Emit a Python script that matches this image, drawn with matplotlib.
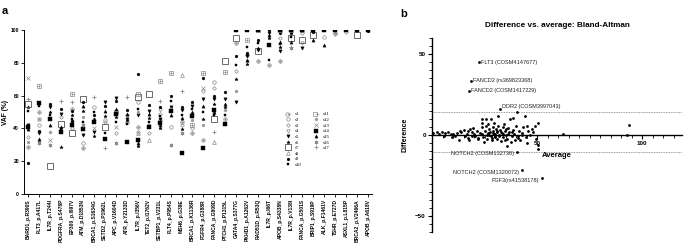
import numpy as np
import matplotlib
matplotlib.use("Agg")
import matplotlib.pyplot as plt
from matplotlib.ticker import MultipleLocator
from matplotlib.lines import Line2D
from matplotlib.legend_handler import HandlerTuple

plt.rcParams['font.family'] = ['Liberation Sans', 'DejaVu Sans']
nan = np.nan

# ---------------- Panel a data ----------------
categories = ["BARD1_p.R390S", "FLT3_p.A417L", "IL7R_p.T244I", "PDGFRA_p.S478P", "EP300_p.I997V",
              "ATM_p.D1853N", "BRCA1_p.S1634G", "SETD2_p.P1962L", "APC_p.V1604D", "ATR_p.Y2133D",
              "IL7R_p.I356V", "TET2_p.I1762V", "SETBP1_p.V231L", "FLT4_p.P954S", "MSH6_p.G39E",
              "BRCA1_p.K1136R", "FGFR4_p.G388R", "FANCA_p.G809D", "PTCH1_p.P1315L", "GATA4_p.S377G",
              "PKHD1_p.A1262V", "RAD51D_p.R53Q", "IL7R_p.I66T", "APOB_p.S4338N", "IL7R_p.V138I",
              "FANCA_p.G501S", "BRIP1_p.S919P", "ALK_p.F1461V", "TSHR_p.E727D", "ASXL1_p.L815P",
              "BRCA2_p.V2466A", "APOB_p.A618V"]

s1 = [29, 50, nan, nan, 52, 28, nan, nan,  nan, 44, 41, nan, 45, nan, 44, 37,
      33, nan, 46, 92, 85, 81, 79, 81,  nan, nan, nan, nan, 98.5, nan, nan, nan]
s2 = [nan, 42, nan, nan, nan, 31, 53, 45,  nan, nan, 56, nan, nan, 41, nan, nan,
      nan, 68.4, nan, nan, nan, nan, nan, nan,  nan, nan, nan, 96, nan, nan, nan, nan]
s3 = [35, 45.7, nan, 47, 40, nan, nan, 44,  37, 48.5, 38, 37.5, 49, nan, 42.4, 40,
      62.7, 64.8, nan, 75, nan, nan, nan, 95.5,  nan, 98, nan, nan, 97.6, 99, nan, nan]
s4 = [nan, nan, nan, nan, nan, nan, nan, nan,  nan, nan, nan, nan, 51, nan, nan, nan,
      nan, nan, nan, nan, nan, nan, nan, nan,  nan, 92, nan, nan, nan, nan, nan, nan]
s5 = [42, 37, 53, 49, 44, 36, 38, 56,  58.7, 46, 48, 50.5, 46, 53, 51, 54,
      58, 58, 58, 56, 84, 88, 98, 87,  nan, 89, nan, nan, nan, nan, nan, nan]
s6 = [53, 32, 50, 29, 48.5, 50.5, 35.3, 47.7,  47, 45, 29.5, 46.5, 40.4, nan, 39.6, 49,
      45.7, 55, 53, 70, 79.6, nan, 95.5, 90,  nan, nan, nan, nan, nan, nan, nan, nan]
s7 = [55, nan, 17, 43, 37.5, 58, nan, 41,  nan, nan, 59, 61, nan, nan, nan, nan,
      nan, 46, 81, 95, nan, 87, nan, nan,  95, 94, 97, nan, nan, nan, 97, nan]
s8 = [nan, nan, nan, nan, nan, nan, nan, nan,  nan, nan, 37, 33, nan, nan, 72.5, nan,
      nan, 31.8, nan, nan, nan, nan, nan, nan,  nan, nan, nan, nan, nan, nan, nan, nan]
s9 = [19, 38.4, 55, 52, 50.5, 56, 48, 54,  56.6, 51, 73, 54.6, 53, 60, 53, 56,
      71, 60, 62, 84, 86, 94, 100, 98,  98, 100, 99, 100, 100, 100, 100, 99.6]
s10 = [50.5, 54, 48, 39.4, 46, 44, 50, 37,  44, 43, 52, 44, 47.7, 56.6, 48.5, 52,
       50, 48.5, 48, 79, 90, 92, 82, 91.5,  96, nan, 100, 100, 100, 100, 99.5, 100]
s11 = [nan, 66, nan, nan, 61, nan, nan, nan,  50, nan, 61, nan, 69, 74, nan, 42.4,
       74, nan, 74.5, nan, 94, 100, nan, 100,  100, 100, nan, nan, nan, nan, nan, nan]
s12 = [32, nan, 38, nan, nan, 47, 45.5, nan,  nan, nan, 50, 42.4, nan, 52, nan, 45,
       42, nan, 51, 63, 81, nan, nan, nan,  nan, nan, nan, nan, nan, nan, nan, nan]
s13 = [71, 46, 33, nan, nan, nan, 40, nan,  41, nan, nan, nan, nan, nan, nan, nan,
       65, nan, nan, nan, nan, nan, nan, nan,  nan, nan, nan, nan, nan, nan, nan, nan]
s14 = [41, 55.6, 46, 38, 42, 39.6, 44, 33.5,  49, 32, 33, 41, 43.6, 50.5, 25, 47.7,
       27.8, 51, 43, 100, 100, 100, 91, 100,  100, 100, 100, 100, 100, 100, 100, 100]
s15 = [39.5, 33.3, 42, 41, 45, 54, 46, 50.5,  52, 49, 31, 49, 42, 48.5, 46.5, 50,
       54, 50, 55, nan, 82, 89, 97, 93,  93, nan, 94, 91, nan, nan, nan, nan]
s16 = [nan, 31, 30, nan, nan, 42, nan, nan,  31, nan, nan, nan, nan, 30, 37.5, nan,
       nan, nan, nan, nan, nan, nan, nan, nan,  89, nan, nan, nan, nan, nan, nan, nan]
s17 = [58, nan, nan, 57, 56, nan, 59, 28,  nan, 59, nan, nan, 56.6, nan, 62.7, nan,
       nan, 38, nan, nan, nan, nan, nan, nan,  90, nan, nan, nan, nan, nan, nan, nan]

series = [s1, s2, s3, s4, s5, s6, s7, s8, s9, s10, s11, s12, s13, s14, s15, s16, s17]
series_names = ["s1", "s2", "s3", "s4", "s5", "s6", "s7", "s8", "s9", "s10",
                "s11", "s12", "s13", "s14", "s15", "s16", "s17"]

# ---------------- Panel b data ----------------
avg_vals = [0.3, 2.2, 4.6, 6.2, 7.8, 8.9, 11, 13, 13.3, 14, 15, 15.7, 16.5, 17.3, 17.8, 18, 18.9,
            19.7, 20.5, 21.3, 22, 22.8, 23.6, 23.6, 24.4, 24.7, 25.2, 25.7, 26, 26.3, 26.8, 27.3,
            27.6, 27.9, 28, 28.4, 28.9, 29.2, 29.5, 29.7, 30, 30.5, 30.8, 31.1, 31.6, 31.9, 32.4,
            32.7, 33.2, 33.7, 34, 34.3, 34.8, 35.2, 35.5, 35.9, 36.3, 36.8, 37.1, 37.4, 37.9, 38.4,
            38.7, 39, 39.5, 40, 40.6, 41.1, 41.5, 41.9, 42.7, 43.5, 44.3, 44.8, 45.1, 45.4, 45.9,
            46.7, 47.5, 49, 49.5, 50.2, 50.6, 50.6, 62.2, 93.8, 92.7,
            25.7, 31.6, 23.6, 28.5, 30.2, 32, 33, 34.5, 36, 29, 31, 27, 35, 10, 3.5, 5.5, 12, 20,
            21.8, 26.5, 29.8, 33.8, 38, 40.8, 43, 48, 17, 19, 24, 9.5,
            22.4, 18.6, 17.6, 32.4, 40.5, 42.9, 52.4]
diff_vals = [1.2, 2, 1.6, 1.2, 2, 0.6, -0.4, -2.8, 2.6, 1.6, 3.2, -0.8, 0.6, -1.6, -3, 3.7, 1.6,
             4.1, -0.4, 2.6, -1.6, 1.2, 7.7, 4.7, -1.4, -4.5, 2.6, 5.7, 0, -2.4, 6.7, 3.7,
             1.6, 9.8, -0.8, -3.4, 4.7, 2.6, 0.6, 7.3, -1.4, 3.7, 1.6, -2.4, 5.7, 0, 3.3,
             -4, 1.2, -1.4, 4.7, 6.7, 2.6, 0, -6.9, -2.4, 4.1, 1.6, 9.8, -4.5, -0.8, 3.3,
             10.8, 0.6, -2.8, 5.7, 14.5, -0.4, 2.6, -3.4, 1.2, 4.7, 11.8, -1.4, 5.7, -4.9, 2.6,
             0, 3.7, 5.7, -2.4, -8.9, 7.7, -6.1, 0.6, 6.1, 0,
             10, 12, 10, -1.8, 0.8, -0.6, 2, -2.8, 0.4, 1.4, 2.2, -0.2, 3.5, 0.8, 0.4, -0.5, 1.4, 0.9,
             -2.5, 1.1, -0.6, 0.7, 1.8, -1.6, 0.2, 1.6, 2.6, -0.9, 0.4, -1.5,
             45, 33.5, 27.4, 15.9, -10.4, -21.6, -26.8]
loa_upper = 14.0
loa_lower = -10.5
annot_labels = ["FLT3 (COSM4147677)", "FANCD2 (rs369823368)", "FANCD2 (COSM1417229)",
                "DDR2 (COSM3997043)", "NOTCH2 (COSM132738)", "NOTCH2 (COSM1320072)",
                "FGF3(rs41538178)"]
annot_avg = [22.4, 18.6, 17.6, 32.4, 40.5, 42.9, 52.4]
annot_diff = [45, 33.5, 27.4, 15.9, -10.4, -21.6, -26.8]

# ---------------- Figure ----------------
fig = plt.figure(figsize=(6.85, 2.45), dpi=100)

GRAY = '#8a8a8a'
marker_styles = [
    dict(marker='o', mfc='none', mec=GRAY, ms=2.5, mew=0.5),          # s1 (circle plus)
    dict(marker='o', mfc='none', mec=GRAY, ms=2.5, mew=0.5),          # s2
    dict(marker='D', mfc='none', mec=GRAY, ms=1.9, mew=0.5),          # s3
    dict(marker='v', mfc='none', mec=GRAY, ms=2.5, mew=0.5),          # s4
    dict(marker='v', mfc='black', mec='black', ms=2.3, mew=0.4),      # s5
    dict(marker='*', mfc='black', mec='black', ms=2.5, mew=0.3),      # s6
    dict(marker='s', mfc='none', mec='#555555', ms=4.0, mew=0.6),     # s7
    dict(marker='^', mfc='none', mec=GRAY, ms=2.7, mew=0.5),          # s8
    dict(marker='o', mfc='black', mec='black', ms=2.0, mew=0.3),      # s9
    dict(marker='s', mfc='black', mec='black', ms=2.0, mew=0.3),      # s10
    dict(marker='s', mfc='none', mec=GRAY, ms=2.7, mew=0.5),          # s11 (box plus)
    dict(marker='o', mfc='#9a9a9a', mec='#9a9a9a', ms=2.1, mew=0.3),  # s12
    dict(marker='x', mfc='none', mec=GRAY, ms=2.5, mew=0.5),          # s13
    dict(marker='s', mfc='black', mec='black', ms=2.7, mew=0.3),      # s14
    dict(marker='^', mfc='black', mec='black', ms=2.3, mew=0.3),      # s15
    dict(marker=(6, 2, 0), mfc='none', mec=GRAY, ms=2.7, mew=0.5),    # s16
    dict(marker='+', mfc='none', mec=GRAY, ms=2.7, mew=0.6),          # s17
]
plus_overlay = {0: dict(marker='+', mec=GRAY, ms=2.5, mew=0.4),
                10: dict(marker='+', mec=GRAY, ms=2.7, mew=0.4)}

axa = fig.add_axes([0.035, 0.208, 0.508, 0.669])
x = np.arange(len(categories))
handles = []
for i, vals in enumerate(series):
    st = marker_styles[i]
    axa.plot(x, vals, linestyle='none', **st, zorder=3)
    h = Line2D([], [], linestyle='none', **st)
    if i in plus_overlay:
        axa.plot(x, vals, linestyle='none', mfc='none', **plus_overlay[i], zorder=3)
        h2 = Line2D([], [], linestyle='none', mfc='none', **plus_overlay[i])
        h = (h, h2)
    handles.append(h)

axa.set_xlim(-0.36, len(categories) - 1 + 0.36)
axa.set_ylim(0, 100)
axa.set_yticks([0, 20, 40, 60, 80, 100])
axa.set_xticks(x)
axa.set_xticklabels(categories, rotation=90, fontsize=3.6, fontweight='bold')
for lbl in axa.get_yticklabels():
    lbl.set_fontsize(3.6)
    lbl.set_fontweight('bold')
axa.tick_params(axis='both', length=2, width=0.6, pad=1.5)
axa.spines['top'].set_visible(False)
axa.spines['right'].set_visible(False)
axa.spines['left'].set_linewidth(0.7)
axa.spines['bottom'].set_linewidth(0.7)
axa.set_ylabel('VAF (%)', fontsize=4.8, fontweight='bold')
axa.yaxis.set_label_coords(-0.043, 0.5)

leg_kw = dict(frameon=False, handlelength=1.0, handletextpad=0.9,
              labelspacing=0.25, borderpad=0, borderaxespad=0,
              prop={'family': 'Liberation Serif', 'size': 3.5},
              handler_map={tuple: HandlerTuple(ndivide=None, pad=0)})
leg1 = axa.legend(handles[:10], series_names[:10], loc='upper left',
                  bbox_to_anchor=(0.752, 0.50), **leg_kw)
axa.add_artist(leg1)
leg2 = axa.legend(handles[10:], series_names[10:], loc='upper left',
                  bbox_to_anchor=(0.833, 0.50), **leg_kw)

fig.text(0.003, 0.975, 'a', fontsize=8, fontweight='bold', va='top')
fig.text(0.585, 0.965, 'b', fontsize=8, fontweight='bold', va='top')

# ---------------- Panel b ----------------
axb = fig.add_axes([0.6307, 0.053, 0.365, 0.792])
axb.scatter(avg_vals, diff_vals, s=4.0, c='black', linewidths=0, zorder=3)
axb.axhline(loa_upper, color='#777777', ls=(0, (1, 1)), lw=0.6)
axb.axhline(loa_lower, color='#777777', ls=(0, (1, 1)), lw=0.6)
axb.set_xlim(0, 119)
axb.set_ylim(-60, 60)
axb.spines['top'].set_visible(False)
axb.spines['right'].set_visible(False)
axb.spines['bottom'].set_position(('data', 0))
axb.spines['bottom'].set_linewidth(1.0)
axb.spines['left'].set_linewidth(1.0)
axb.set_xticks([50, 100])
axb.set_yticks([-50, 0, 50])
axb.xaxis.set_minor_locator(MultipleLocator(5))
axb.yaxis.set_minor_locator(MultipleLocator(5))
axb.tick_params(axis='both', which='major', length=3, width=0.8, pad=1.5, labelsize=4.5)
axb.tick_params(axis='both', which='minor', length=2, width=0.6)
for lbl in axb.get_xticklabels() + axb.get_yticklabels():
    lbl.set_fontweight('bold')
axb.set_ylabel('Difference', fontsize=5, fontweight='bold', labelpad=5)
axb.text(59.5, -12.8, 'Average', fontsize=5.5, fontweight='bold', ha='center', va='center')
axb.set_title('Difference vs. average: Bland-Altman', fontsize=5.9, fontweight='bold', pad=8)

for lab, ax_, dy_ in zip(annot_labels, annot_avg, annot_diff):
    if dy_ > 0:
        is_ddr = lab.startswith('DDR2')
        axb.annotate(lab, (ax_, dy_), xytext=(1.5, 0.5 if is_ddr else 0),
                     textcoords='offset points', fontsize=4.0, ha='left',
                     va='bottom' if is_ddr else 'center', color='#222222')
    else:
        axb.annotate(lab, (ax_, dy_), xytext=(-2, -1.5), textcoords='offset points',
                     fontsize=4.0, ha='right', va='center', color='#222222')

fig.savefig('out.png', dpi=100)
